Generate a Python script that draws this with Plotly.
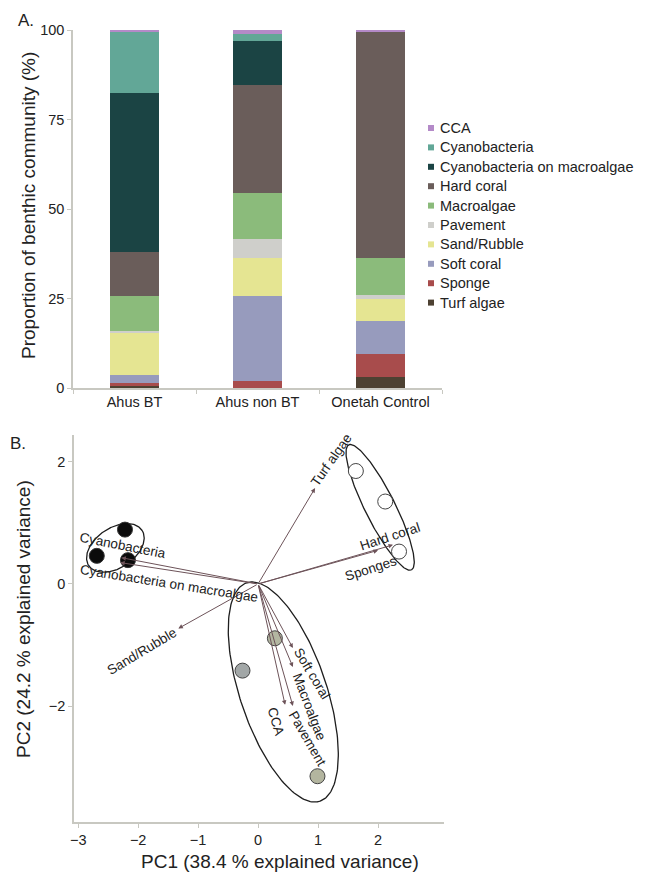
import numpy as np
import plotly.graph_objects as go

# ---------------- Panel A data ----------------
sites = ["Ahus BT", "Ahus non BT", "Onetah Control"]
categories = ["CCA", "Cyanobacteria", "Cyanobacteria on macroalgae", "Hard coral",
              "Macroalgae", "Pavement", "Sand/Rubble", "Soft coral", "Sponge", "Turf algae"]
cca = [0.4, 1.2, 0.5]
cyanobacteria = [17.3, 2.0, 0.0]
cyano_macro = [44.2, 12.2, 0.0]
hard_coral = [12.4, 30.2, 63.1]
macroalgae = [9.8, 12.8, 10.4]
pavement = [0.5, 5.2, 1.0]
sand_rubble = [11.8, 10.7, 6.3]
soft_coral = [2.3, 23.7, 9.3]
sponge = [0.5, 2.0, 6.4]
turf_algae = [0.8, 0.0, 3.0]
series_values = [cca, cyanobacteria, cyano_macro, hard_coral, macroalgae,
                 pavement, sand_rubble, soft_coral, sponge, turf_algae]
colors = ["#b48ac8", "#62a797", "#1b4444", "#6a5d5a", "#8bbb7b",
          "#cfcfcb", "#e5e592", "#979bbd", "#a84c4c", "#4d4132"]
yticks_a = [0, 25, 50, 75, 100]

# ---------------- Panel B data ----------------
bt_pc1 = [-2.22, -2.69, -2.17]
bt_pc2 = [0.89, 0.46, 0.39]
nonbt_pc1 = [0.28, -0.26, 0.99]
nonbt_pc2 = [-0.89, -1.42, -3.15]
ctrl_pc1 = [1.63, 2.12, 2.35]
ctrl_pc2 = [1.85, 1.35, 0.53]

loading_names = ["Turf algae", "Hard coral", "Sponges", "Cyanobacteria",
                 "Cyanobacteria on macroalgae", "Sand/Rubble", "Soft coral",
                 "Macroalgae", "CCA", "Pavement"]
loading_pc1 = [0.95, 2.25, 2.00, -2.28, -2.30, -1.33, 0.58, 0.58, 0.45, 0.58]
loading_pc2 = [1.57, 0.64, 0.55, 0.43, 0.35, -0.73, -1.05, -1.36, -1.98, -2.00]

# label placement (x, y, angle)
label_x = [1.21, 2.20, 1.88, -2.26, -1.48, -1.94, 0.90, 0.85, 0.29, 0.82]
label_y = [2.03, 0.77, 0.26, 0.63, 0.01, -1.11, -1.46, -2.01, -2.26, -2.53]
label_angle = [-55, -18, -18, 11, 9, -31, 59, 69, 74, 60]

# ellipses: centre x, centre y, semi-major, semi-minor, angle (deg)
ell_cx = [-2.38, 0.42, 2.035]
ell_cy = [0.59, -1.77, 1.255]
ell_a = [0.53, 1.89, 1.15]
ell_b = [0.33, 0.72, 0.25]
ell_ang = [32.6, -71.0, -62.9]

xticks_b = [-3, -2, -1, 0, 1, 2]
yticks_b = [-2, 0, 2]

FONT = "Arial, Liberation Sans, sans-serif"
AXC = "#c8c8c1"
TXT = "#222222"
# the page body adds an 8px offset; size the figure so it fills the window exactly
OFF = 8
W, H = 645 - OFF, 878 - OFF


def px(x):
    return (x - OFF) / W


def py(y):
    return 1 - (y - OFF) / H


fig = go.Figure()

# stacked bars (bottom first)
for name, vals, col in reversed(list(zip(categories, series_values, colors))):
    fig.add_trace(go.Bar(x=sites, y=vals, name=name, marker_color=col,
                         marker_line_width=0, width=0.4, showlegend=False,
                         xaxis="x", yaxis="y"))

# ellipses
t = np.linspace(0, 2 * np.pi, 200)
for cx, cy, a, b, ang in zip(ell_cx, ell_cy, ell_a, ell_b, ell_ang):
    th = np.deg2rad(ang)
    ex = cx + a * np.cos(t) * np.cos(th) - b * np.sin(t) * np.sin(th)
    ey = cy + a * np.cos(t) * np.sin(th) + b * np.sin(t) * np.cos(th)
    fig.add_trace(go.Scatter(x=ex, y=ey, mode="lines", showlegend=False,
                             line=dict(color="#1e1e1e", width=1.3),
                             hoverinfo="skip", xaxis="x2", yaxis="y2"))

# points
fig.add_trace(go.Scatter(x=bt_pc1, y=bt_pc2, mode="markers", showlegend=False,
                         marker=dict(size=15, color="#0b0b0b", line=dict(color="#333", width=1)),
                         xaxis="x2", yaxis="y2"))
fig.add_trace(go.Scatter(x=nonbt_pc1, y=nonbt_pc2, mode="markers", showlegend=False,
                         marker=dict(size=15, color=["#b3b6a1", "#a2a7a7", "#b3b59f"],
                                     line=dict(color="#444", width=1)),
                         xaxis="x2", yaxis="y2"))
fig.add_trace(go.Scatter(x=ctrl_pc1, y=ctrl_pc2, mode="markers", showlegend=False,
                         marker=dict(size=15, color="white", line=dict(color="#444", width=1)),
                         xaxis="x2", yaxis="y2"))

annotations = []
shapes = []
ARROW = "#6d5359"
for nm, lx, ly in zip(loading_names, loading_pc1, loading_pc2):
    annotations.append(dict(x=lx, y=ly, ax=0, ay=0, xref="x2", yref="y2",
                            axref="x2", ayref="y2", text="", showarrow=True,
                            arrowhead=2, arrowsize=0.9, arrowwidth=1,
                            arrowcolor=ARROW, standoff=0, startstandoff=0))
for nm, tx, ty, ta in zip(loading_names, label_x, label_y, label_angle):
    annotations.append(dict(x=tx, y=ty, xref="x2", yref="y2", text=nm,
                            showarrow=False, textangle=ta,
                            xanchor="center", yanchor="middle",
                            font=dict(family=FONT, size=13.5, color=TXT)))

# legend for panel A (small squares + labels)
LEG_X, LEG_Y0, LEG_DY, SQ = 428, 128, 19.4, 6
for i, (name, col) in enumerate(zip(categories, colors)):
    yc = LEG_Y0 + i * LEG_DY
    shapes.append(dict(type="rect", xref="paper", yref="paper",
                       x0=px(LEG_X), x1=px(LEG_X + SQ),
                       y0=py(yc + SQ / 2), y1=py(yc - SQ / 2),
                       fillcolor=col, line=dict(width=0)))
    annotations.append(dict(x=px(LEG_X + SQ + 4), y=py(yc), xref="paper", yref="paper",
                            xanchor="left", yanchor="middle", text=name, showarrow=False,
                            font=dict(family=FONT, size=14.5, color=TXT)))


def centred(x, y, text, size, angle=0):
    return dict(x=px(x), y=py(y), xref="paper", yref="paper", text=text,
                showarrow=False, textangle=angle, xanchor="center", yanchor="middle",
                font=dict(family=FONT, size=size, color=TXT))


# panel letters and axis titles
annotations += [
    centred(26, 20, "A.", 17),
    centred(18, 443, "B.", 17),
    centred(28, 206, "Proportion of benthic community (%)", 19, -90),
    centred(23, 619, "PC2 (24.2 % explained variance)", 19, -90),
    centred(280, 861, "PC1 (38.4 % explained variance)", 19),
]

axis_common = dict(showgrid=False, zeroline=False, showline=True, linecolor=AXC,
                   linewidth=1.5, ticks="outside", tickcolor=AXC, ticklen=4,
                   automargin=False,
                   tickfont=dict(family=FONT, size=14.5, color=TXT))

fig.update_layout(
    width=W, height=H, margin=dict(l=0, r=0, t=0, b=0, autoexpand=False),
    paper_bgcolor="white", plot_bgcolor="white", barmode="stack",
    font=dict(family=FONT, color=TXT), showlegend=False,
    xaxis=dict(domain=[px(73), px(442)], type="category", range=[-0.5, 2.5],
               tickson="boundaries", **axis_common),
    yaxis=dict(domain=[py(388), py(30)], range=[0, 100], tickvals=yticks_a,
               **axis_common),
    xaxis2=dict(domain=[px(74), px(444)], range=[-3.07, 3.1], tickvals=xticks_b,
                anchor="y2", **axis_common),
    yaxis2=dict(domain=[py(822), py(435)], range=[-3.9, 2.44], tickvals=yticks_b,
                anchor="x2", **axis_common),
    annotations=annotations,
    shapes=shapes,
)

fig.write_html("out.html")
